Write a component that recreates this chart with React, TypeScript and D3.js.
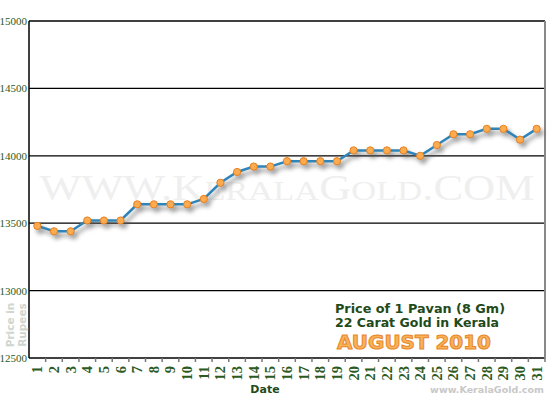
import React from "react";
import * as d3 from "d3";

const days = Array.from({ length: 31 }, (_, i) => String(i + 1));
const prices = [
  13480, 13440, 13440, 13520, 13520, 13520, 13640, 13640, 13640, 13640,
  13680, 13800, 13880, 13920, 13920, 13960, 13960, 13960, 13960, 14040,
  14040, 14040, 14040, 14000, 14080, 14160, 14160, 14200, 14200, 14120, 14200,
];
const yTicks = [12500, 13000, 13500, 14000, 14500, 15000];
const titleLines = ["Price of 1 Pavan (8 Gm)", "22 Carat Gold in Kerala"];
const monthLabel = "AUGUST 2010";

export default function App() {
  const W = 550, H = 400;
  const left = 29, right = 545, top = 21, bottom = 358;
  const x = d3.scaleBand<string>().domain(days).range([left, right]).padding(0);
  const y = d3.scaleLinear().domain([12500, 15000]).range([bottom, top]);
  const cx = (d: string) => (x(d) as number) + x.bandwidth() / 2;
  const data = days.map((d, i) => ({ d, v: prices[i] }));
  const line = d3.line<{ d: string; v: number }>().x((p) => cx(p.d)).y((p) => y(p.v));
  const path = line(data) as string;
  const green = "#2b5a23";
  return (
    <svg width={W} height={H} style={{ position: "absolute", left: 0, top: 0, background: "#fff" }}>
      <defs>
        <filter id="sh" x="-10%" y="-20%" width="130%" height="160%">
          <feGaussianBlur stdDeviation="2" />
        </filter>
      </defs>
      <rect x={0} y={0} width={W} height={H} fill="#fff" />
      {/* watermark */}
      <text x={287} y={200} textAnchor="middle" fontFamily="Liberation Serif, serif" fill="#efefef" fontSize={36} textLength={495} lengthAdjust="spacingAndGlyphs">
        <tspan>WWW.K</tspan>
        <tspan fontSize={28}>ERALA</tspan>
        <tspan>G</tspan>
        <tspan fontSize={28}>OLD</tspan>
        <tspan>.COM</tspan>
      </text>
      {/* grid lines */}
      {yTicks.map((t) => (
        <g key={t}>
          <line x1={left} x2={right} y1={y(t)} y2={y(t)} stroke="#000" strokeWidth={1.3} />
          <text x={27} y={y(t) + 4} textAnchor="end" fontFamily="Liberation Serif, serif" fontSize={11} fill={green}>{t}</text>
        </g>
      ))}
      <line x1={left} x2={left} y1={top} y2={bottom} stroke="#000" strokeWidth={1.5} />
      <line x1={right} x2={right} y1={top} y2={bottom} stroke="#888" strokeWidth={2} />
      {/* x ticks */}
      {days.map((d) => (
        <g key={d}>
          <line x1={(x(d) as number) + x.bandwidth()} x2={(x(d) as number) + x.bandwidth()} y1={bottom} y2={bottom + 4} stroke="#777" strokeWidth={1.5} />
          <text transform={`translate(${cx(d) + 5},${bottom + 8}) rotate(-90)`} textAnchor="end" fontFamily="Liberation Serif, serif" fontWeight="bold" fontSize={14.5} fill={green}>{d}</text>
        </g>
      ))}
      <text x={265} y={393} textAnchor="middle" fontFamily="DejaVu Sans, sans-serif" fontWeight="bold" fontSize={11} fill="#1f4a1a">Date</text>
      <text x={487} y={393} textAnchor="middle" fontFamily="DejaVu Sans, sans-serif" fontWeight="bold" fontSize={9.5} fill="#c8c8c8">www.KeralaGold.com</text>
      {/* y axis title */}
      <g transform="translate(14,325) rotate(-90)" fontFamily="DejaVu Sans, sans-serif" fontWeight="bold" fontSize={10.5} fill="#cfd5cf" textAnchor="middle">
        <text x={0} y={0}>Price in</text>
        <text x={0} y={12}>Rupees</text>
      </g>
      {/* legend text */}
      <text x={335} y={313} fontFamily="DejaVu Sans, sans-serif" fontWeight="bold" fontSize={12.5} fill="#1f4a1a" textLength={170} lengthAdjust="spacingAndGlyphs">{titleLines[0]}</text>
      <text x={335} y={327} fontFamily="DejaVu Sans, sans-serif" fontWeight="bold" fontSize={12.5} fill="#1f4a1a" textLength={164} lengthAdjust="spacingAndGlyphs">{titleLines[1]}</text>
      <text x={337} y={349} fontFamily="DejaVu Sans, sans-serif" fontWeight="bold" fontSize={19} fill="#f7b25a" stroke="#e8872a" strokeWidth={1} textLength={154} lengthAdjust="spacingAndGlyphs">{monthLabel}</text>
      {/* shadow */}
      <g transform="translate(3,4)" filter="url(#sh)" opacity={0.55}>
        <path d={path} fill="none" stroke="#555" strokeWidth={3} />
        {data.map((p) => (
          <circle key={p.d} cx={cx(p.d)} cy={y(p.v)} r={4} fill="#555" />
        ))}
      </g>
      <path d={path} fill="none" stroke="#2f85b9" strokeWidth={2.5} />
      {data.map((p) => (
        <circle key={p.d} cx={cx(p.d)} cy={y(p.v)} r={3.6} fill="#fbab50" stroke="#e8801e" strokeWidth={1} />
      ))}
    </svg>
  );
}
